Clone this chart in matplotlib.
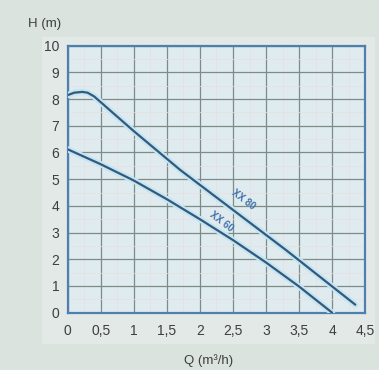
import matplotlib
matplotlib.use("Agg")
from matplotlib import pyplot as plt
from matplotlib.patches import Rectangle
import numpy as np

# pump curves
q_80 = [0, 0.1, 0.22, 0.3, 0.4, 1.0, 1.7, 2.5, 3.3, 4.35]
h_80 = [8.15, 8.24, 8.27, 8.24, 8.1, 6.8, 5.35, 3.85, 2.35, 0.3]
q_60 = [0, 0.5, 1.0, 1.5, 2.0, 2.5, 3.0, 3.5, 4.0]
h_60 = [6.12, 5.56, 4.95, 4.25, 3.5, 2.72, 1.88, 0.98, 0.0]

x_ticks = [0, 0.5, 1, 1.5, 2, 2.5, 3, 3.5, 4, 4.5]
x_labels = ["0", "0,5", "1", "1,5", "2", "2,5", "3", "3,5", "4", "4,5"]
y_ticks = list(range(0, 11))

plt.rcParams['font.family'] = ['Liberation Sans', 'DejaVu Sans']

fig = plt.figure(figsize=(3.79, 3.70), dpi=100, facecolor="#dbe3df")
fig.patches.append(Rectangle((0.11, 0.07), 0.88, 0.83, transform=fig.transFigure,
                             facecolor="#e3e9e6", edgecolor="none", zorder=-1))
ax = fig.add_axes([0.1786, 0.1549, 0.785, 0.7216])
ax.set_facecolor("#dfebee")

ax.set_xlim(0, 4.5)
ax.set_ylim(0, 10)
ax.set_xticks(x_ticks)
ax.set_xticklabels(x_labels)
ax.set_yticks(y_ticks)
ax.set_xticks(np.arange(0, 4.51, 0.25), minor=True)
ax.set_yticks(np.arange(0, 10.01, 0.5), minor=True)
ax.grid(True, which="major", color="#7d8c8a", lw=0.9)
ax.grid(True, which="minor", color="#eadede", lw=0.5)
ax.set_axisbelow(True)
ax.tick_params(which="both", length=0, labelsize=10, labelcolor="#3e3e3e", pad=6)
ax.tick_params(axis="x", pad=8)
for s in ax.spines.values():
    s.set_color("#4f7fae")
    s.set_linewidth(1.6)

for q, h in [(q_80, h_80), (q_60, h_60)]:
    ax.plot(q, h, color="#c4e6f2", lw=4.5, solid_capstyle="round", zorder=3)
    ax.plot(q, h, color="#35597c", lw=1.6, solid_capstyle="round", zorder=4)

ax.text(2.65, 4.22, "XX 80", color="#3f73ad", fontsize=7, fontweight="bold",
        rotation=-37, ha="center", va="center", zorder=5)
ax.text(2.32, 3.4, "XX 60", color="#3f73ad", fontsize=7, fontweight="bold",
        rotation=-37, ha="center", va="center", zorder=5)

fig.text(0.118, 0.935, "H (m)", fontsize=9.5, color="#3e3e3e", ha="center", va="center")
fig.text(0.55, 0.025, "Q (m³/h)", fontsize=9.5, color="#3e3e3e", ha="center", va="center")

plt.savefig("out.png", dpi=100, facecolor=fig.get_facecolor())
